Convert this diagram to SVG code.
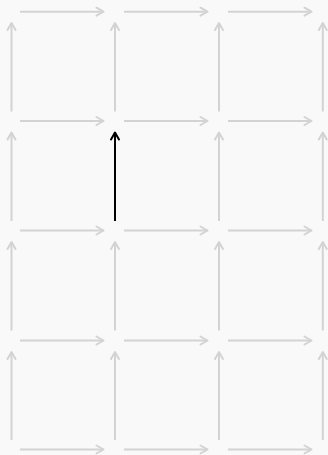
<svg xmlns="http://www.w3.org/2000/svg" width="328" height="455" viewBox="0 0 328 455">
<style>
.g{stroke:#d3d3d3;stroke-width:2;fill:none;marker-end:url(#ag)}
.k{stroke:#000;stroke-width:2;fill:none;marker-end:url(#ak)}
</style>
<defs>
<marker id="ag" markerUnits="userSpaceOnUse" markerWidth="12" markerHeight="12" viewBox="-8 -6 10 12" refX="0" refY="0" orient="auto" overflow="visible">
<path d="M-7,-4 L0,0 L-7,4" fill="none" stroke="#d3d3d3" stroke-width="2" stroke-linecap="round" stroke-linejoin="round"/>
</marker>
<marker id="ak" markerUnits="userSpaceOnUse" markerWidth="12" markerHeight="12" viewBox="-8 -6 10 12" refX="0" refY="0" orient="auto" overflow="visible">
<path d="M-7,-4 L0,0 L-7,4" fill="none" stroke="#000" stroke-width="2" stroke-linecap="round" stroke-linejoin="round"/>
</marker>
</defs>
<rect width="328" height="455" fill="#f9f9f9"/>
<g id="connectors">
<!-- horizontal rows -->
<line class="g" x1="20" y1="11.7" x2="103.5" y2="11.7"/>
<line class="g" x1="124" y1="11.7" x2="207.5" y2="11.7"/>
<line class="g" x1="228" y1="11.7" x2="311.5" y2="11.7"/>
<line class="g" x1="20" y1="121" x2="103.5" y2="121"/>
<line class="g" x1="124" y1="121" x2="207.5" y2="121"/>
<line class="g" x1="228" y1="121" x2="311.5" y2="121"/>
<line class="g" x1="20" y1="230.5" x2="103.5" y2="230.5"/>
<line class="g" x1="124" y1="230.5" x2="207.5" y2="230.5"/>
<line class="g" x1="228" y1="230.5" x2="311.5" y2="230.5"/>
<line class="g" x1="20" y1="340.5" x2="103.5" y2="340.5"/>
<line class="g" x1="124" y1="340.5" x2="207.5" y2="340.5"/>
<line class="g" x1="228" y1="340.5" x2="311.5" y2="340.5"/>
<line class="g" x1="20" y1="449.5" x2="103.5" y2="449.5"/>
<line class="g" x1="124" y1="449.5" x2="207.5" y2="449.5"/>
<line class="g" x1="228" y1="449.5" x2="311.5" y2="449.5"/>
<!-- vertical columns -->
<line class="g" x1="11.5" y1="111.5" x2="11.5" y2="23"/>
<line class="g" x1="115" y1="111.5" x2="115" y2="23"/>
<line class="g" x1="219" y1="111.5" x2="219" y2="23"/>
<line class="g" x1="322.8" y1="111.5" x2="322.8" y2="23"/>
<line class="g" x1="11.5" y1="221" x2="11.5" y2="132.5"/>
<line class="g" x1="219" y1="221" x2="219" y2="132.5"/>
<line class="g" x1="322.8" y1="221" x2="322.8" y2="132.5"/>
<line class="g" x1="11.5" y1="330.5" x2="11.5" y2="242"/>
<line class="g" x1="115" y1="330.5" x2="115" y2="242"/>
<line class="g" x1="219" y1="330.5" x2="219" y2="242"/>
<line class="g" x1="322.8" y1="330.5" x2="322.8" y2="242"/>
<line class="g" x1="11.5" y1="440" x2="11.5" y2="352"/>
<line class="g" x1="115" y1="440" x2="115" y2="352"/>
<line class="g" x1="219" y1="440" x2="219" y2="352"/>
<line class="g" x1="322.8" y1="440" x2="322.8" y2="352"/>
<line class="k" x1="115" y1="221" x2="115" y2="132.5"/>
</g>
</svg>
